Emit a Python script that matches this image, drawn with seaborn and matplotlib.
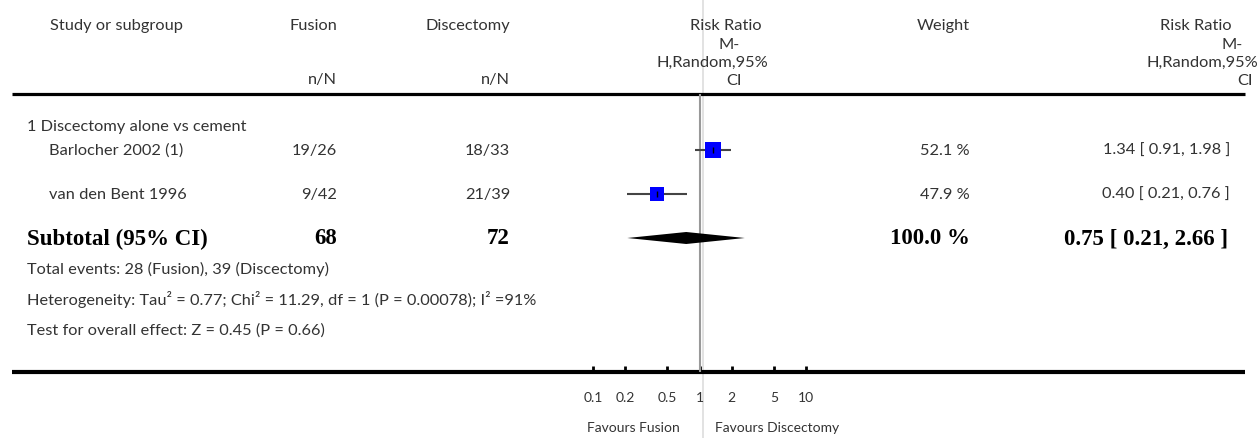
import numpy as np
import pandas as pd
import matplotlib
matplotlib.use('Agg')
import matplotlib.pyplot as plt
import seaborn as sns

# Datos del forest plot
estudios = ['Barlocher 2002 (1)', 'van den Bent 1996']
fusion_nN = ['19/26', '9/42']
discectomia_nN = ['18/33', '21/39']
rr = [1.34, 0.40]
ci_low = [0.91, 0.21]
ci_high = [1.98, 0.76]
peso = [52.1, 47.9]

subtotal_rr = 0.75
subtotal_low = 0.21
subtotal_high = 2.66
subtotal_fusion = '68'
subtotal_disc = '72'

ticks = [0.1, 0.2, 0.5, 1, 2, 5, 10]
tick_labels = ['0.1', '0.2', '0.5', '1', '2', '5', '10']

W, H = 1259, 439
sns.set_theme(style='white')
plt.rcParams['font.family'] = ['Lato', 'DejaVu Sans']

fig = plt.figure(figsize=(W / 100, H / 100), dpi=100)

# Eje de fondo en pixeles para el texto
bg = fig.add_axes([0, 0, 1, 1])
bg.set_xlim(0, W)
bg.set_ylim(H, 0)
bg.axis('off')

# Eje del forest (escala log)
x0, x1 = 593, 806
y_top, y_axis = 95, 373
ax = fig.add_axes([x0 / W, 1 - y_axis / H, (x1 - x0) / W, (y_axis - y_top) / H])
ax.set_xscale('log')
ax.set_xlim(0.1, 10)
ax.set_ylim(y_axis, y_top)
ax.patch.set_alpha(0)
for s in ax.spines.values():
    s.set_visible(False)

fs = 11.8
gris = '#333333'

def txt(x, y, s, ha='left', **kw):
    kw.setdefault('fontsize', fs)
    kw.setdefault('color', gris)
    bg.text(x, y, s, ha=ha, va='center', **kw)

# Encabezados
txt(50, 26, 'Study or subgroup')
txt(337, 26, 'Fusion', ha='right')
txt(337, 80, 'n/N', ha='right')
txt(510, 26, 'Discectomy', ha='right')
txt(510, 80, 'n/N', ha='right')
for (xr, yy, s) in [(762, 26, 'Risk Ratio'), (740, 45, 'M-'), (768, 63, 'H,Random,95%'), (742, 81, 'CI')]:
    txt(xr, yy, s, ha='right')
txt(970, 26, 'Weight', ha='right')
for (xr, yy, s) in [(1232, 26, 'Risk Ratio'), (1243, 45, 'M-'), (1258, 63, 'H,Random,95%'), (1253, 81, 'CI')]:
    txt(xr, yy, s, ha='right')

bg.hlines(95, 12, 1245, color='black', lw=2.3)
bg.hlines(373, 12, 1245, color='black', lw=3)

# Lineas verticales
bg.vlines(703, 0, H, color='#dddddd', lw=1.2, zorder=0)
ax.axvline(1, color='#999999', lw=1.5, zorder=1)

# Filas
fila_y = [151 + 44 * i for i in range(len(estudios))]
txt(27, 127, '1 Discectomy alone vs cement')
for i, y in enumerate(fila_y):
    txt(49, y, estudios[i])
    txt(337, y, fusion_nN[i], ha='right')
    txt(510, y, discectomia_nN[i], ha='right')
    txt(970, y, f'{peso[i]:.1f} %', ha='right')
    txt(1230, y, f'{rr[i]:.2f} [ {ci_low[i]:.2f}, {ci_high[i]:.2f} ]', ha='right')

df = pd.DataFrame({'rr': rr, 'lo': ci_low, 'hi': ci_high, 'y': fila_y, 'peso': peso})
ax.hlines(df['y'], df['lo'], df['hi'], color='#444444', lw=1.5, zorder=2)
sns.scatterplot(data=df, x='rr', y='y', marker='s', s=df['peso'] * 2.3, color='#0000ff',
                edgecolor='none', ax=ax, zorder=3, legend=False)
ax.vlines(df['rr'], df['y'] - 3, df['y'] + 3, color='black', lw=1, zorder=4)
ax.set_xlabel('')
ax.set_ylabel('')

# Subtotal
y_sub = fila_y[-1] + 44
bold = dict(family=['Liberation Serif'], fontweight='bold', fontsize=16.5, color='black')
txt(27, y_sub, 'Subtotal (95% CI)', **bold)
txt(337, y_sub, subtotal_fusion, ha='right', **bold)
txt(510, y_sub, subtotal_disc, ha='right', **bold)
txt(970, y_sub, '100.0 %', ha='right', **bold)
txt(1228, y_sub, f'{subtotal_rr:.2f} [ {subtotal_low:.2f}, {subtotal_high:.2f} ]', ha='right', **bold)
ax.fill([subtotal_low, subtotal_rr, subtotal_high, subtotal_rr],
        [y_sub, y_sub - 6, y_sub, y_sub + 6], color='black', zorder=3, lw=0)

txt(27, 269, 'Total events: 28 (Fusion), 39 (Discectomy)')
txt(27, 300, 'Heterogeneity: Tau² = 0.77; Chi² = 11.29, df = 1 (P = 0.00078); I² =91%')
txt(27, 331, 'Test for overall effect: Z = 0.45 (P = 0.66)')

# Ticks
ax.set_xticks(ticks)
ax.set_xticklabels(tick_labels)
ax.minorticks_off()
ax.tick_params(axis='x', direction='in', length=4, width=2, color='black', pad=14,
               labelsize=10, labelcolor=gris, bottom=True)
ax.set_yticks([])

txt(680, 428, 'Favours Fusion', ha='right', fontsize=10)
txt(715, 428, 'Favours Discectomy', fontsize=10)

fig.savefig('out.png', dpi=100)
